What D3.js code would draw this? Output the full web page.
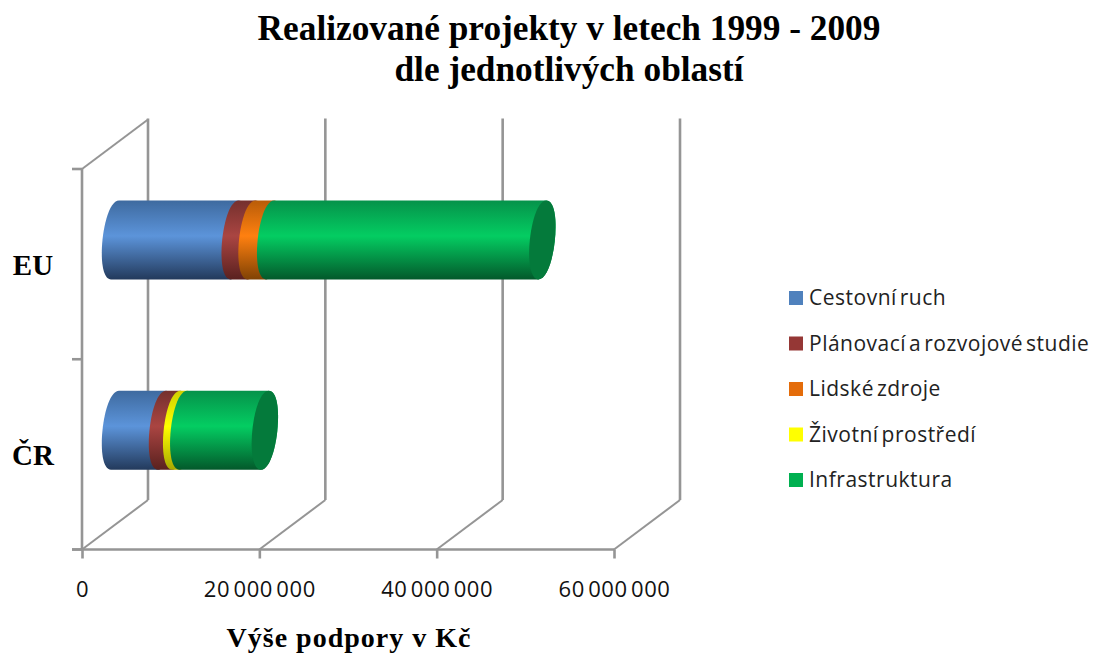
<!DOCTYPE html>
<html><head><meta charset="utf-8">
<script src="https://cdn.jsdelivr.net/npm/d3@7/dist/d3.min.js"></script>
<style>html,body{margin:0;padding:0;background:#fff;overflow:hidden}svg{display:block}</style>
</head><body><svg id="c" width="1099" height="654"></svg>
<script>
const categories = ["EU", "ČR"];
const seriesNames = ["Cestovní ruch", "Plánovací a rozvojové studie", "Lidské zdroje", "Životní prostředí", "Infrastruktura"];
const cestovniRuch = [13500000, 5300000];
const planovaci = [1900000, 1600000];
const lidskeZdroje = [2100000, 0];
const zivotniProstredi = [0, 800000];
const infrastruktura = [30700000, 9200000];
const xTicks = [0, 20000000, 40000000, 60000000];
const titleLines = ["Realizované projekty v letech 1999 - 2009", "dle jednotlivých oblastí"];
const axisTitle = "Výše podpory v Kč";
const legendColors = ["#4f81bd", "#953735", "#e46c0a", "#ffff00", "#00b050"];
const shades = [
  ["#3e6a9f", "#5c94da", "#233a5c"],
  ["#74302d", "#aa4542", "#5a211f"],
  ["#b85c08", "#ff8010", "#804204"],
  ["#cfcf00", "#ffff00", "#a8a800"],
  ["#05924a", "#04cd62", "#03592b"]
];
const series = [cestovniRuch, planovaci, lidskeZdroje, zivotniProstredi, infrastruktura];

const svg = d3.select("#c");
const x = d3.scaleLinear().domain([0, 60000000]).range([82, 614]);
const y = d3.scaleBand().domain(categories).range([169, 549.5]);
const depth = {dx: 66, dy: -49.5};
const gray = "#959595";

const defs = svg.append("defs");
shades.forEach((s, i) => {
  const g = defs.append("linearGradient").attr("id", "g" + i)
    .attr("x1", 0).attr("y1", 0).attr("x2", 0).attr("y2", 1);
  g.append("stop").attr("offset", "0%").attr("stop-color", s[0]);
  g.append("stop").attr("offset", "45%").attr("stop-color", s[1]);
  g.append("stop").attr("offset", "100%").attr("stop-color", s[2]);
});

// walls
const grid = svg.append("g").attr("fill", "none").attr("stroke", gray);
xTicks.forEach(t => {
  const px = x(t);
  grid.append("line").attr("x1", px + depth.dx).attr("x2", px + depth.dx)
    .attr("y1", y.range()[0] + depth.dy - 1).attr("y2", y.range()[1] + depth.dy).attr("stroke-width", 2.6);
  grid.append("line").attr("x1", px).attr("x2", px + depth.dx)
    .attr("y1", y.range()[1]).attr("y2", y.range()[1] + depth.dy).attr("stroke-width", 2);
});
grid.append("line").attr("x1", x(0)).attr("x2", x(0) + depth.dx)
  .attr("y1", y.range()[0]).attr("y2", y.range()[0] + depth.dy).attr("stroke-width", 2);

// axes
const xAxis = d3.axisBottom(x).tickValues(xTicks).tickSize(9).tickPadding(23)
  .tickFormat(d => d === 0 ? "0" : d3.format(",")(d).replace(/,/g, " "));
const gx = svg.append("g").attr("transform", `translate(0,${y.range()[1]})`).call(xAxis);
const yTickVals = [y.range()[0], (y.range()[0] + y.range()[1]) / 2, y.range()[1]];
const gy = svg.append("g");
gy.append("line").attr("x1", x(0)).attr("x2", x(0)).attr("y1", y.range()[0]).attr("y2", y.range()[1]);
gy.selectAll("line.t").data(yTickVals).join("line").attr("class", "t")
  .attr("x1", x(0) - 10).attr("x2", x(0)).attr("y1", d => d).attr("y2", d => d);
gy.selectAll("line").attr("stroke", gray).attr("stroke-width", 2.6);
gx.selectAll("path,line").attr("stroke", gray).attr("stroke-width", 2.6);
gx.select("path").attr("d", `M${x(0) - 10},0H${x(60000000)}`);
gx.selectAll("text").attr("font-family", "'Open Sans', sans-serif").attr("font-size", 22)
  .attr("fill", "#111").attr("letter-spacing", 0.6).attr("word-spacing", -3).attr("dy", "0.71em");

// cylinders
const ry = 39.5, skew = 4, bulge = 16.7;
const bars = svg.append("g");
const rightSide = (px, cy) => `C${px + skew + bulge},${cy - ry} ${px - skew + bulge},${cy + ry} ${px - skew},${cy + ry}`;
const leftSide = (px, cy) => `C${px - skew - bulge},${cy + ry} ${px + skew - bulge},${cy - ry} ${px + skew},${cy - ry}`;
categories.forEach((c, ci) => {
  const cy = y(c) + y.bandwidth() / 2 + depth.dy / 2 + 0.5;
  let acc = 0;
  let lastEnd = 0;
  series.forEach((s, si) => {
    const v = s[ci];
    if (!v) return;
    const x0 = x(acc) + depth.dx / 2, x1 = x(acc + v) + depth.dx / 2;
    acc += v; lastEnd = x1;
    bars.append("path")
      .attr("d", `M${x0 + skew},${cy - ry}L${x1 + skew},${cy - ry}${rightSide(x1, cy)}L${x0 - skew},${cy + ry}${leftSide(x0, cy)}Z`)
      .attr("fill", `url(#g${si})`);
  });
  bars.append("path")
    .attr("d", `M${lastEnd + skew},${cy - ry}${rightSide(lastEnd, cy)}${leftSide(lastEnd, cy)}Z`)
    .attr("fill", "#047a3b");
  svg.append("text").text(c).attr("x", 33).attr("y", y(c) + y.bandwidth() / 2 + 11)
    .attr("text-anchor", "middle").attr("font-family", "'Liberation Serif', serif")
    .attr("font-weight", "bold").attr("font-size", 29).attr("fill", "#000");
});

// title
const serif = "'Liberation Serif', serif";
svg.append("text").text(titleLines[0]).attr("x", 569).attr("y", 40).attr("text-anchor", "middle")
  .attr("font-family", serif).attr("font-weight", "bold").attr("font-size", 35.3).attr("fill", "#000");
svg.append("text").text(titleLines[1]).attr("x", 569).attr("y", 81).attr("text-anchor", "middle")
  .attr("font-family", serif).attr("font-weight", "bold").attr("font-size", 35.3).attr("fill", "#000");
svg.append("text").text(axisTitle).attr("x", 349).attr("y", 647).attr("text-anchor", "middle")
  .attr("font-family", serif).attr("font-weight", "bold").attr("font-size", 28).attr("letter-spacing", 1).attr("fill", "#000");

// legend
const ly = d3.scalePoint().domain(seriesNames).range([298, 480]);
const leg = svg.append("g");
seriesNames.forEach((n, i) => {
  leg.append("rect").attr("x", 789).attr("y", ly(n) - 7).attr("width", 14).attr("height", 14).attr("fill", legendColors[i]);
  leg.append("text").text(n).attr("x", 809).attr("y", ly(n) + 7)
    .attr("font-family", "'Open Sans', sans-serif").attr("font-size", 21).attr("letter-spacing", 0.5).attr("word-spacing", -3).attr("fill", "#222");
});
</script></body></html>
